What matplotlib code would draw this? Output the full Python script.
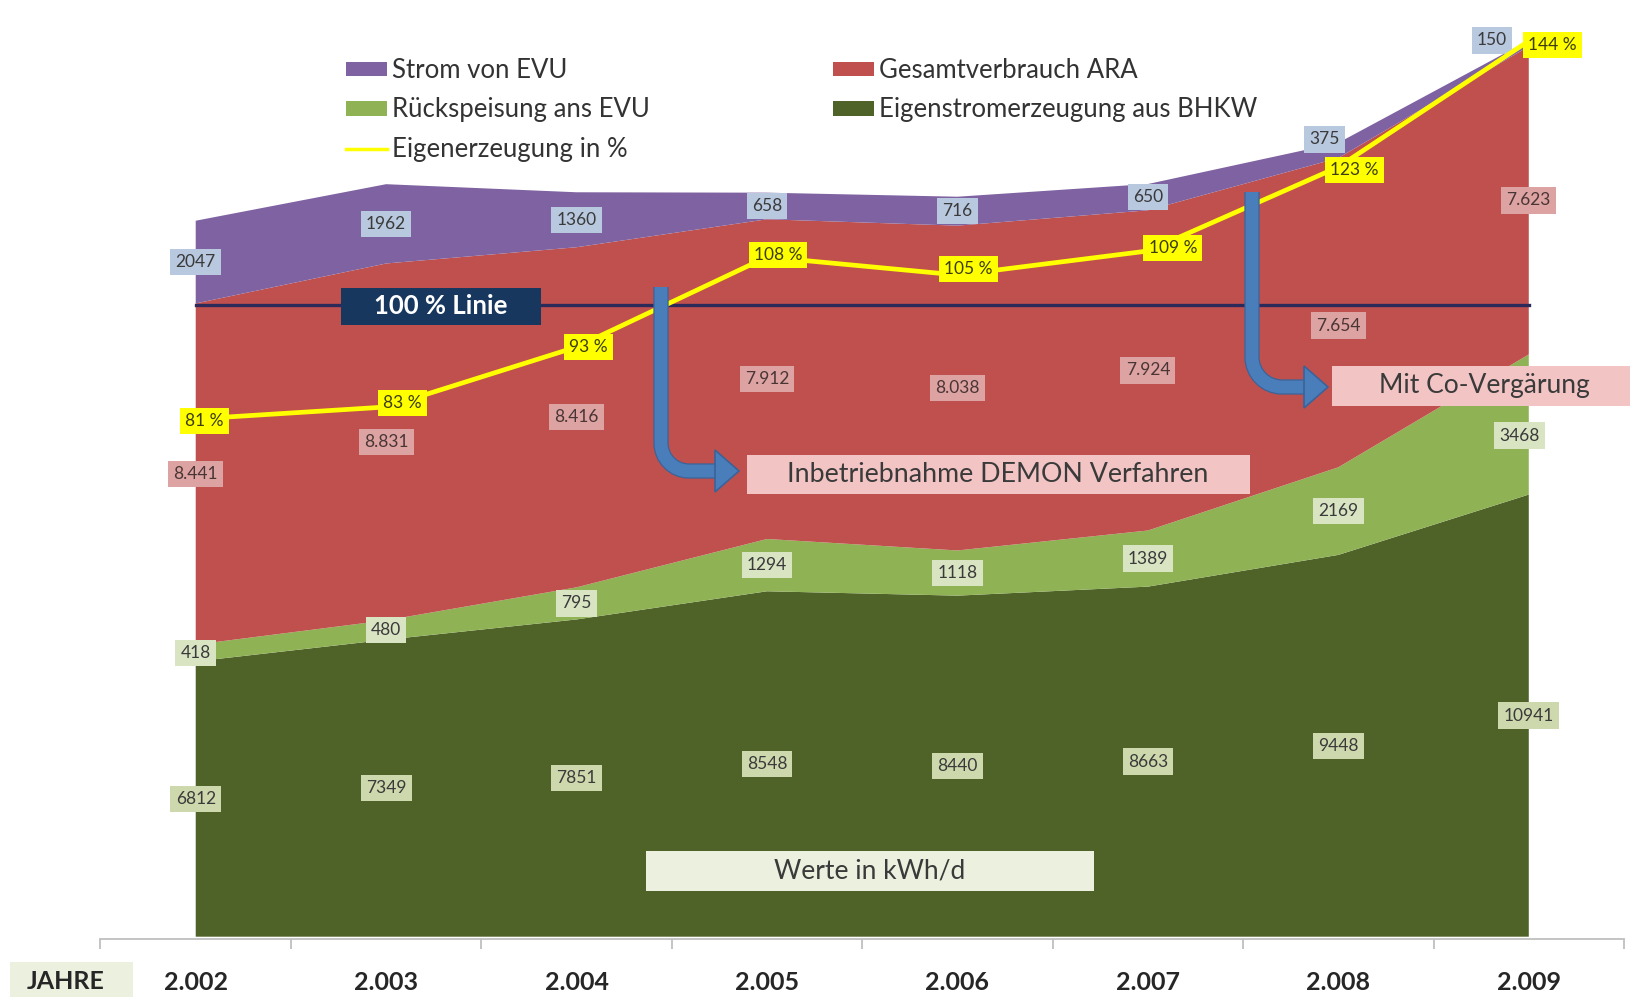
import matplotlib
matplotlib.use("Agg")
import matplotlib.pyplot as plt
from matplotlib.patches import Patch, Rectangle, PathPatch, Polygon
from matplotlib.lines import Line2D
from matplotlib.path import Path
import matplotlib.patheffects as pe

plt.rcParams['font.family'] = ['Lato', 'DejaVu Sans']

# ---- data (kWh/d) ----
years = ['2.002', '2.003', '2.004', '2.005', '2.006', '2.007', '2.008', '2.009']
eigenstrom_bhkw = [6812, 7349, 7851, 8548, 8440, 8663, 9448, 10941]
rueckspeisung = [418, 480, 795, 1294, 1118, 1389, 2169, 3468]
gesamtverbrauch = [8441, 8831, 8416, 7912, 8038, 7924, 7654, 7623]
strom_evu = [2047, 1962, 1360, 658, 716, 650, 375, 150]
eigenerzeugung_pct = [81, 83, 93, 108, 105, 109, 123, 144]

# ---- styling ----
W, H, DPI = 1631, 997, 100
C_PURPLE = '#7f62a1'
C_RED = '#c0504d'
C_LGREEN = '#8fb255'
C_DGREEN = '#4f6228'
C_YELLOW = '#ffff00'
TXT = '#3a3a3a'

fig = plt.figure(figsize=(W / DPI, H / DPI), dpi=DPI)


def fx(x):
    return x / W


def fy(y):
    return 1 - y / H


ax = fig.add_axes([fx(100.5), fy(939), 1523.5 / W, 939 / H])
x = list(range(len(years)))
ax.stackplot(x, eigenstrom_bhkw, rueckspeisung, gesamtverbrauch, strom_evu,
             colors=[C_DGREEN, C_LGREEN, C_RED, C_PURPLE], linewidth=0)
ax.set_xlim(-0.5, len(years) - 0.5)
ax.set_ylim(-57, 23180)
for s in ['top', 'left', 'right']:
    ax.spines[s].set_visible(False)
ax.spines['bottom'].set_color('#bfbfbf')
ax.spines['bottom'].set_linewidth(1.3)
ax.set_yticks([])
ax.set_xticks(x)
ax.set_xticklabels(years, fontsize=18, fontweight='bold', color='#262626')
ax.tick_params(axis='x', which='major', length=0, pad=23)
ax.set_xticks([i - 0.5 for i in range(len(years) + 1)], minor=True)
ax.tick_params(axis='x', which='minor', length=7, width=1.3, color='#bfbfbf',
               direction='out')

# ---- value labels in the middle of each layer ----
def fmt_dot(v):
    return f"{v:,}".replace(',', '.')


def add_label(axis, xi, yi, text, fc, off=(0, 0), color=TXT, size=12.5):
    axis.annotate(text, xy=(xi, yi), xytext=off, textcoords='offset pixels',
                  ha='center', va='center', fontsize=size, color=color,
                  bbox=dict(boxstyle='square,pad=0.3', fc=fc, ec='none'),
                  zorder=6)


off_purple = [(0, 0)] * 6 + [(-14, 11), (-37, 3)]
off_red = [(0, 0)] * 6 + [(0, -13), (0, 0)]
off_lgreen = [(0, 0)] * 7 + [(-9, -11)]
off_pct = [(9, -2), (16, 4), (12, 0), (11, 2), (11, 6), (25, 3), (16, -3), (24, -4)]

for i in x:
    b0 = eigenstrom_bhkw[i]
    b1 = b0 + rueckspeisung[i]
    b2 = b1 + gesamtverbrauch[i]
    b3 = b2 + strom_evu[i]
    add_label(ax, i, b0 / 2, str(eigenstrom_bhkw[i]), '#cdd9ad')
    add_label(ax, i, (b0 + b1) / 2, str(rueckspeisung[i]), '#d9e4c3', off_lgreen[i])
    add_label(ax, i, (b1 + b2) / 2, fmt_dot(gesamtverbrauch[i]), '#dca3a2', off_red[i],
              color='#4a3535')
    add_label(ax, i, (b2 + b3) / 2, str(strom_evu[i]), '#b8c8df', off_purple[i])

# ---- percentage line on secondary scale ----
ax2 = ax.twinx()
ax2.set_ylim(-5.67, 150.83)
ax2.axis('off')
ax2.plot([x[0], x[-1]], [100, 100], color='#2c2a5a', lw=2.4, zorder=2)
ax2.plot(x, eigenerzeugung_pct, color=C_YELLOW, lw=3.4, zorder=3,
         solid_joinstyle='round')
for i in x:
    add_label(ax2, i, eigenerzeugung_pct[i], f"{eigenerzeugung_pct[i]} %", C_YELLOW,
              off_pct[i], color='#3d3d10')

# ---- legend (two columns) ----
leg_kw = dict(loc='upper left', frameon=False, fontsize=18.5, handlelength=1.6,
              handleheight=0.5, handletextpad=0.2, labelspacing=0.56,
              borderpad=0, borderaxespad=0, labelcolor='#333333')
fig.legend(handles=[Patch(fc=C_PURPLE, label='Strom von EVU'),
                    Patch(fc=C_LGREEN, label='Rückspeisung ans EVU'),
                    Line2D([], [], color=C_YELLOW, lw=2.5, label='Eigenerzeugung in %')],
           bbox_to_anchor=(fx(346), fy(58)), **leg_kw)
fig.legend(handles=[Patch(fc=C_RED, label='Gesamtverbrauch ARA'),
                    Patch(fc=C_DGREEN, label='Eigenstromerzeugung aus BHKW')],
           bbox_to_anchor=(fx(833), fy(58)), **leg_kw)


# ---- text boxes ----
def box(x0, y0, x1, y1, fc, text, tx, ty, size, color=TXT, weight='normal'):
    fig.add_artist(Rectangle((fx(x0), fy(y1)), fx(x1) - fx(x0), fy(y0) - fy(y1),
                             transform=fig.transFigure, fc=fc, ec='none', zorder=5))
    fig.text(fx(tx), fy(ty), text, ha='center', va='center', fontsize=size,
             color=color, fontweight=weight, zorder=6)


box(341, 288, 541, 325, '#17375e', '100 % Linie', 441, 306, 18.5, color='white',
    weight='bold')
box(747, 455, 1250, 494, '#f2c4c4', 'Inbetriebnahme DEMON Verfahren', 998, 474, 19.3)
box(1332, 366, 1640, 406, '#f2c4c4', 'Mit Co-Vergärung', 1484, 386, 19)
box(646, 851, 1094, 891, '#ebf1de', 'Werte in kWh/d', 870, 871, 19)
box(10, 962, 133, 1000, '#ebf1de', 'JAHRE', 66, 981, 18, color='#262626', weight='bold')


# ---- bent arrows ----
def bent_arrow(x0, y0, yc, r, xh, xtip, hh):
    k = 0.448
    verts = [(x0, y0), (x0, yc - r), (x0, yc - k * r), (x0 + k * r, yc),
             (x0 + r, yc), (xh + 2, yc)]
    codes = [Path.MOVETO, Path.LINETO, Path.CURVE4, Path.CURVE4, Path.CURVE4,
             Path.LINETO]
    path = Path([(fx(a), fy(b)) for a, b in verts], codes)
    fig.add_artist(PathPatch(path, transform=fig.transFigure, fill=False,
                             lw=9.2, edgecolor='#4a7ebb', capstyle='butt',
                             path_effects=[pe.Stroke(linewidth=11, foreground='#3a6399'),
                                           pe.Normal()], zorder=7))
    head = [(xh, yc - hh / 2), (xtip, yc), (xh, yc + hh / 2)]
    fig.add_artist(Polygon([(fx(a), fy(b)) for a, b in head], closed=True,
                           transform=fig.transFigure, fc='#4a7ebb', ec='#3a6399',
                           lw=1.2, zorder=8))


bent_arrow(661, 287, 471, 28, 715, 739, 42)
bent_arrow(1252, 192, 387, 30, 1304, 1328, 42)

fig.savefig('out.png', dpi=DPI)
